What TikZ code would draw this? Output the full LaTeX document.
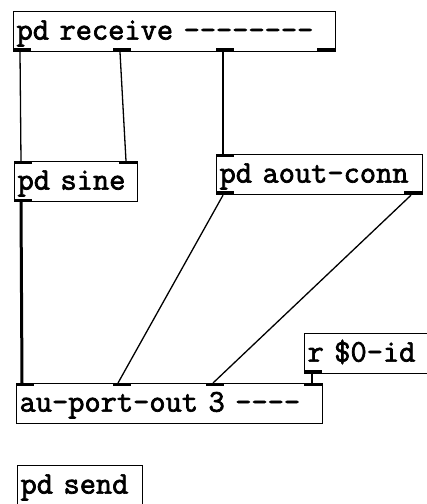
\documentclass[tikz,border=0pt]{standalone}
\usepackage{fontspec}
\newfontfamily\pdfont[FakeBold=2.2]{Latin Modern Mono}
\tikzset{
  pdobj/.style={draw=black, line width=1.2pt, anchor=north west, inner ysep=0pt, inner xsep=3pt,
    text height=28pt, text depth=12pt, align=left,
    font=\pdfont\fontsize{31.5}{32}\selectfont},
  portbox/.style={fill=black},
  ctl/.style={line width=1.3pt},
  sig/.style={line width=3pt}
}
\newcommand{\pport}[2]{\fill[portbox] (#1,#2) rectangle ++(18,3);}
\begin{document}
\begin{tikzpicture}[x=1pt,y=-1pt]
\clip (0,0) rectangle (427,504);
\useasboundingbox (0,0) rectangle (427,504);
\fill[white] (0,0) rectangle (427,504);
% boxes
\node[pdobj, text width=316pt] (recv) at (13,11) {pd receive --------};
\node[pdobj, text width=117pt] (sine) at (14,161) {pd sine};
\node[pdobj, text width=200pt] (aout) at (216,154) {pd aout-conn};
\node[pdobj, text width=117pt] (rid) at (304,333) {r \$0-id};
\node[pdobj, text width=300pt] (auout) at (16,383) {au-port-out 3 ----};
\node[pdobj, text width=119pt] (send) at (17,465) {pd send};
% ports
\pport{13}{48}\pport{113}{48}\pport{216}{48}\pport{317}{48}
\pport{14}{161}\pport{119}{161}\pport{14}{199}
\pport{216}{154}\pport{216}{191}\pport{404}{191}
\pport{304}{370}
\pport{16}{383}\pport{113}{383}\pport{206}{383}\pport{304}{383}
% port coordinates
\coordinate (recv-o0) at ([xshift=7pt]recv.south west);
\coordinate (recv-o1) at ([xshift=107pt]recv.south west);
\coordinate (recv-o2) at ([xshift=210pt]recv.south west);
\coordinate (sine-i0) at ([xshift=7pt]sine.north west);
\coordinate (sine-i1) at ([xshift=112pt]sine.north west);
\coordinate (sine-o0) at ([xshift=7pt]sine.south west);
\coordinate (aout-i0) at ([xshift=7pt]aout.north west);
\coordinate (aout-o0) at ([xshift=7pt]aout.south west);
\coordinate (aout-o1) at ([xshift=195pt]aout.south west);
\coordinate (rid-o0) at ([xshift=8pt]rid.south west);
\coordinate (auout-i0) at ([xshift=6pt]auout.north west);
\coordinate (auout-i1) at ([xshift=102pt]auout.north west);
\coordinate (auout-i2) at ([xshift=197pt]auout.north west);
\coordinate (auout-i3) at ([xshift=296pt]auout.north west);
% connections
\draw[ctl] (recv-o0) -- (sine-i0);
\draw[ctl] (recv-o1) -- (sine-i1);
\draw[ctl] (recv-o2) -- (aout-i0);
\draw[sig] (sine-o0) -- (auout-i0);
\draw[ctl] (aout-o0) -- (auout-i1);
\draw[ctl] (aout-o1) -- (auout-i2);
\draw[ctl] (rid-o0) -- (auout-i3);
\end{tikzpicture}
\end{document}
